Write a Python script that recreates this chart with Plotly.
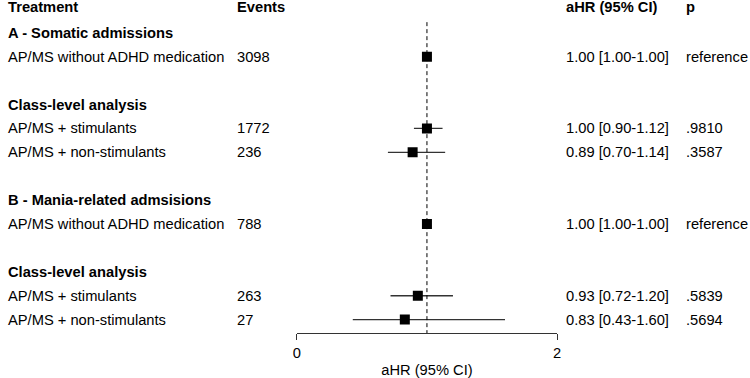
import plotly.graph_objects as go

# ---- data ----
labels = ["A - Somatic admissions", "AP/MS without ADHD medication", "",
          "Class-level analysis", "AP/MS + stimulants", "AP/MS + non-stimulants", "",
          "B - Mania-related admsisions", "AP/MS without ADHD medication", "",
          "Class-level analysis", "AP/MS + stimulants", "AP/MS + non-stimulants"]
is_heading = [True, False, False, True, False, False, False, True, False, False, True, False, False]
events = ["", "3098", "", "", "1772", "236", "", "", "788", "", "", "263", "27"]
hr = [None, 1.00, None, None, 1.00, 0.89, None, None, 1.00, None, None, 0.93, 0.83]
lo = [None, 1.00, None, None, 0.90, 0.70, None, None, 1.00, None, None, 0.72, 0.43]
hi = [None, 1.00, None, None, 1.12, 1.14, None, None, 1.00, None, None, 1.20, 1.60]
pvals = ["", "reference", "", "", ".9810", ".3587", "", "", "reference", "", "", ".5839", ".5694"]
headers = ["Treatment", "Events", "aHR (95% CI)", "p"]
xticks = [0, 2]
ref_line = 1

W, H = 750, 378
FONT = "Liberation Sans, Arial, sans-serif"
FS = 14.7

rows = list(range(1, len(labels) + 1))
pr = [r for r, v in zip(rows, hr) if v is not None]
px = [v for v in hr if v is not None]
plo = [v - l for v, l in zip(hr, lo) if v is not None]
phi = [h - v for v, h in zip(hr, hi) if v is not None]

fig = go.Figure()
fig.add_trace(go.Scatter(
    x=px, y=pr, mode="markers",
    marker=dict(symbol="square", size=10, color="black"),
    error_x=dict(type="data", symmetric=False, array=phi, arrayminus=plo,
                 width=0, thickness=1.3, color="#333333"),
    showlegend=False, hoverinfo="skip"))

# dashed reference line
fig.add_shape(type="line", xref="x", yref="y", x0=ref_line, x1=ref_line,
              y0=0.55, y1=13.56, line=dict(color="black", width=1, dash="4px,3px"))

col_x = [2, 233, 566, 687]
ann = []
for cx, t in zip(col_x, headers):
    ann.append(dict(x=cx / W, xref="paper", y=-0.1, yref="y", text="<b>%s</b>" % t,
                    xanchor="left", yanchor="middle", showarrow=False))
for r, lab, hd, ev, v, l, h, p in zip(rows, labels, is_heading, events, hr, lo, hi, pvals):
    if lab:
        ann.append(dict(x=col_x[0] / W, xref="paper", y=r, yref="y",
                        text=("<b>%s</b>" % lab) if hd else lab,
                        xanchor="left", yanchor="middle", showarrow=False))
    if ev:
        ann.append(dict(x=col_x[1] / W, xref="paper", y=r, yref="y", text=ev,
                        xanchor="left", yanchor="middle", showarrow=False))
    if v is not None:
        ann.append(dict(x=col_x[2] / W, xref="paper", y=r, yref="y",
                        text="%.2f [%.2f-%.2f]" % (v, l, h),
                        xanchor="left", yanchor="middle", showarrow=False))
    if p:
        ann.append(dict(x=col_x[3] / W, xref="paper", y=r, yref="y", text=p,
                        xanchor="left", yanchor="middle", showarrow=False))

fig.update_layout(
    width=W, height=H,
    margin=dict(l=0, r=0, t=0, b=45),
    paper_bgcolor="white", plot_bgcolor="white",
    font=dict(family=FONT, size=FS, color="black"),
    annotations=ann,
    xaxis=dict(domain=[296 / W, 559 / W], range=[0, 2], tickvals=xticks,
               ticktext=[str(t) for t in xticks],
               showline=True, linecolor="#333333", linewidth=1,
               ticks="outside", ticklen=6, tickcolor="#333333", tickwidth=1,
               showgrid=False, zeroline=False,
               title=dict(text="aHR (95% CI)", standoff=5,
                          font=dict(size=FS)),
               tickfont=dict(size=FS)),
    yaxis=dict(range=[13.56, -0.377], visible=False, showgrid=False, zeroline=False),
)

fig.write_html("out.html")
